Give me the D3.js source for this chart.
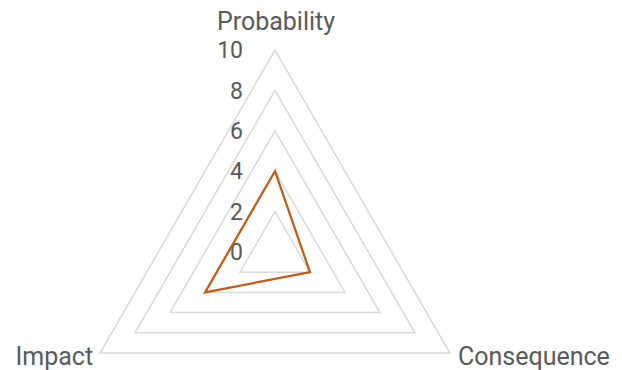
<!DOCTYPE html>
<html>
<head>
<meta charset="utf-8">
<script src="https://cdn.jsdelivr.net/npm/d3@7"></script>
<style>
  html, body { margin: 0; padding: 0; background: #fff; }
  svg { display: block; font-family: Roboto, "Noto Sans", sans-serif; }
</style>
</head>
<body>
<svg id="chart" width="622" height="370"></svg>
<script>
// Risk profile on three axes
const categories = ["Probability", "Consequence", "Impact"];
const values = [4, 2, 4];
const tickValues = [0, 2, 4, 6, 8, 10];

const width = 622, height = 370;
const cx = 275, cy = 252;

const svg = d3.select("#chart");

const r = d3.scaleLinear().domain([0, 10]).range([0, 202]);
const angle = d3.scaleOrdinal()
  .domain(categories)
  .range([-Math.PI / 2, Math.PI / 6, 5 * Math.PI / 6]);

const point = (cat, v) => [
  cx + r(v) * Math.cos(angle(cat)),
  cy + r(v) * Math.sin(angle(cat))
];

const line = d3.line().curve(d3.curveLinearClosed);

// Grid rings
svg.append("g")
  .selectAll("path")
  .data(tickValues.filter(t => t > 0))
  .join("path")
  .attr("d", t => line(categories.map(c => point(c, t))))
  .attr("fill", "none")
  .attr("stroke", "#d9d9d9")
  .attr("stroke-width", 1.5);

// Tick labels along the vertical axis
svg.append("g")
  .selectAll("text")
  .data(tickValues)
  .join("text")
  .attr("x", cx - 32)
  .attr("y", t => cy - r(t))
  .attr("dy", "0.36em")
  .attr("text-anchor", "end")
  .attr("fill", "#595959")
  .attr("font-size", 23)
  .text(d => d);

// Series
svg.append("path")
  .attr("d", line(categories.map((c, i) => point(c, values[i]))))
  .attr("fill", "none")
  .attr("stroke", "#c55a11")
  .attr("stroke-width", 2.25)
  .attr("stroke-linejoin", "miter");

// Category labels
const labelPos = {
  "Probability": { dx: 1, dy: -29, anchor: "middle" },
  "Consequence": { dx: 8, dy: 3, anchor: "start" },
  "Impact": { dx: -7, dy: 3, anchor: "end" }
};
svg.append("g")
  .selectAll("text")
  .data(categories)
  .join("text")
  .attr("x", c => point(c, 10)[0] + labelPos[c].dx)
  .attr("y", c => point(c, 10)[1] + labelPos[c].dy)
  .attr("dy", "0.36em")
  .attr("text-anchor", c => labelPos[c].anchor)
  .attr("fill", "#595959")
  .attr("font-size", 25)
  .text(c => c);
</script>
</body>
</html>
